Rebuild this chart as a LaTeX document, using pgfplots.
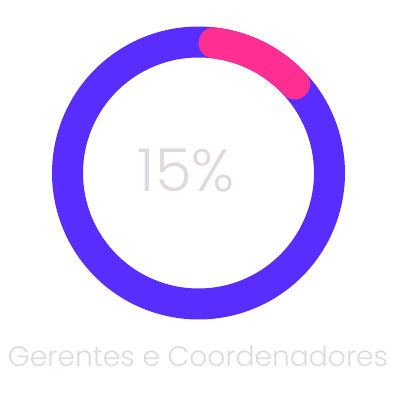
\documentclass[border=0pt]{standalone}
\usepackage{pgfplots}
\pgfplotsset{compat=1.18}
\usepackage{fontspec}
\setmainfont{Poppins}[UprightFont=* Light]
\definecolor{ringpurple}{HTML}{5A2DFF}
\definecolor{ringpink}{HTML}{FF2E93}
\definecolor{txtgray}{HTML}{E2D8DF}
\begin{document}
\begin{tikzpicture}
\def\pct{15}
\def\r{131}
\def\capdeg{6.8}
\begin{axis}[
  scale only axis, width=400bp, height=400bp,
  xmin=-198.5, xmax=201.5, ymin=-227, ymax=173,
  hide axis, clip=false,
]
\useasboundingbox (rel axis cs:0,0) rectangle (rel axis cs:1,1);
% remaining share (100 - 15)
\addplot[ringpurple, line width=31bp, domain=0:372, samples=200, line cap=butt]
  ({\r*cos(x)},{\r*sin(x)});
% highlighted share (15)
\addplot[ringpink, line width=31bp, line cap=round, samples=60,
  domain={90-3.6*\pct+\capdeg}:{90-\capdeg}]
  ({\r*cos(x)},{\r*sin(x)});
\node[text=txtgray] at (axis cs:-12,2) {\resizebox{97bp}{!}{15\%}};
\node[text=txtgray] at (axis cs:-0.5,-183) {\resizebox{380bp}{!}{Gerentes e Coordenadores}};
\end{axis}
\end{tikzpicture}
\end{document}
